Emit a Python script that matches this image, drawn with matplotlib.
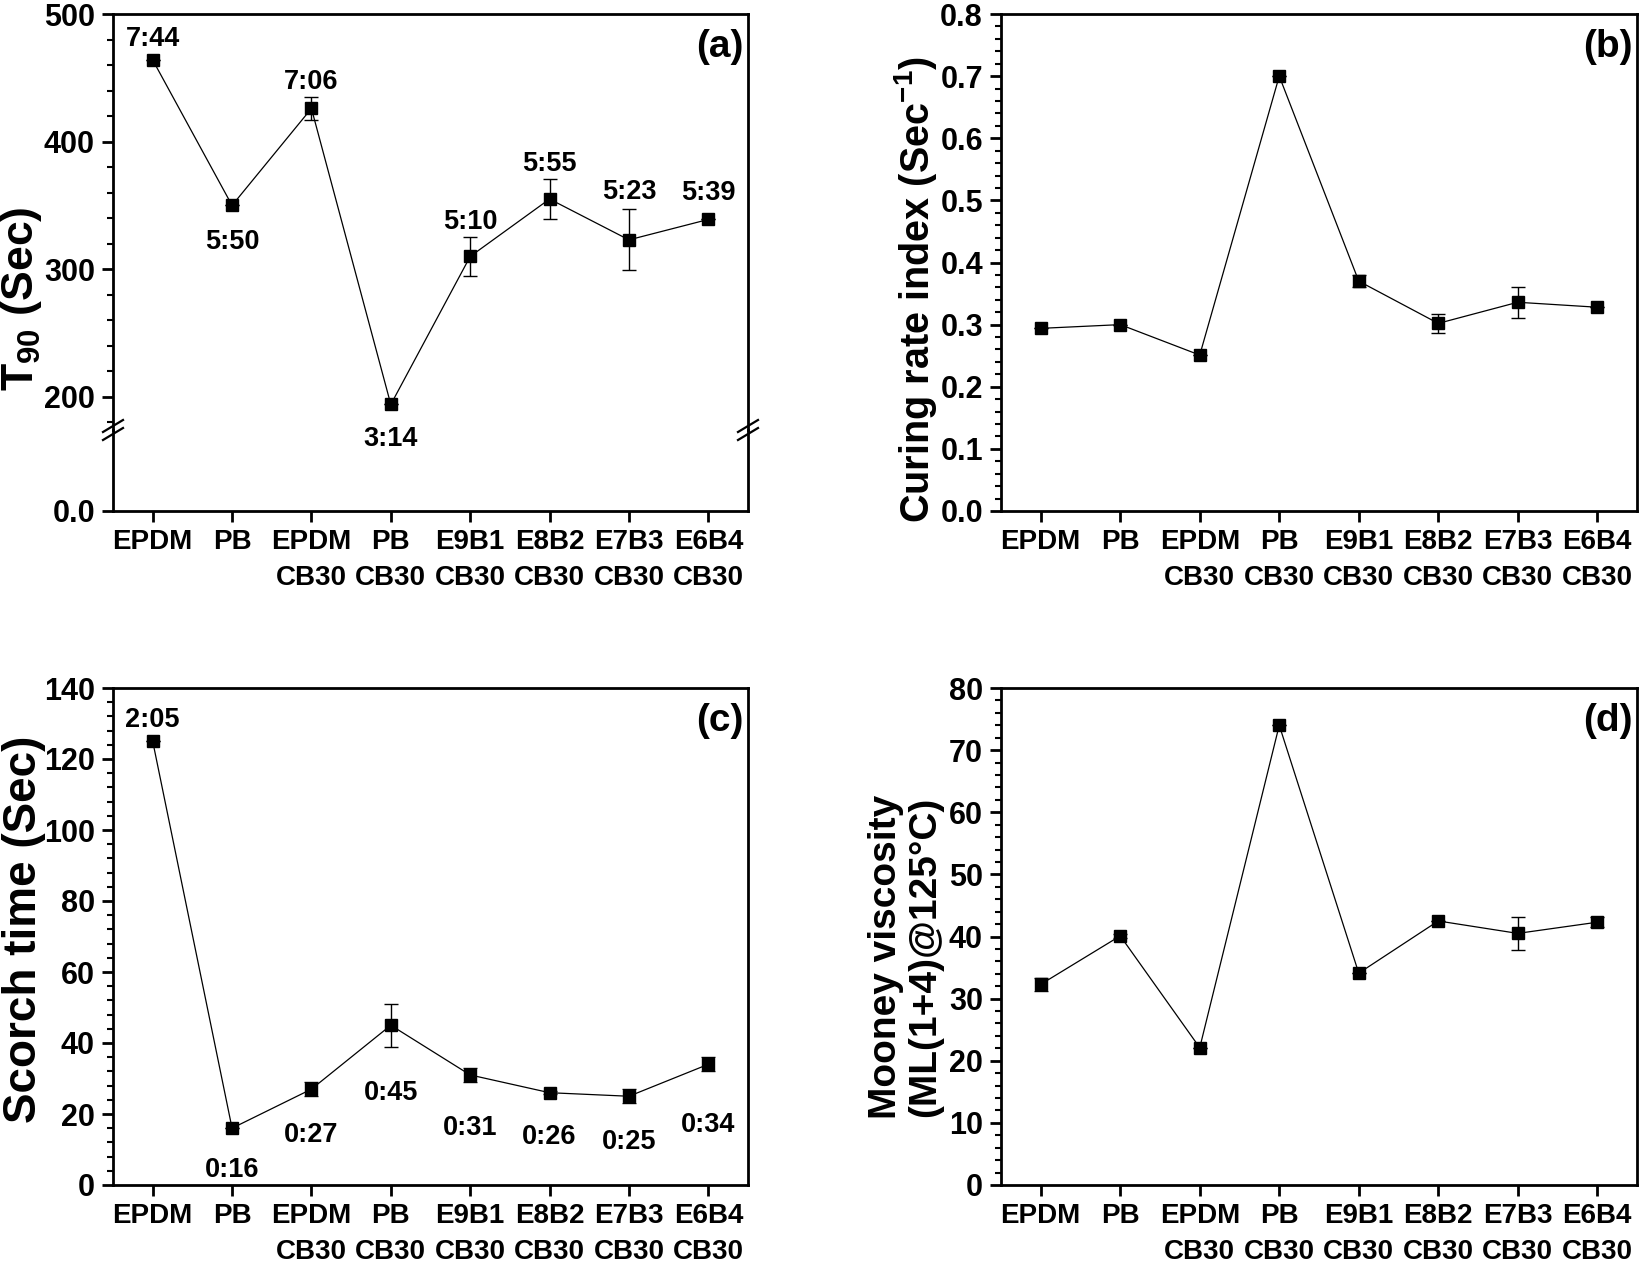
import numpy as np
import matplotlib
matplotlib.use("Agg")
import matplotlib.pyplot as plt
from matplotlib.lines import Line2D
from matplotlib.ticker import MultipleLocator, NullLocator, FormatStrFormatter

plt.rcParams["font.family"] = ["Liberation Sans", "DejaVu Sans"]
plt.rcParams["font.weight"] = "bold"
plt.rcParams["mathtext.default"] = "regular"

W, H = 1639, 1264

samples = ["EPDM", "PB", "EPDM\nCB30", "PB\nCB30", "E9B1\nCB30",
           "E8B2\nCB30", "E7B3\nCB30", "E6B4\nCB30"]

# (a) T90 in seconds (labels are min:sec)
t90 = [464, 350, 426, 194, 310, 355, 323, 339]
t90_err = [0, 0, 9, 0, 15, 16, 24, 0]
t90_text = ["7:44", "5:50", "7:06", "3:14", "5:10", "5:55", "5:23", "5:39"]

# (b) curing rate index
cri = [0.294, 0.300, 0.251, 0.700, 0.370, 0.302, 0.336, 0.328]
cri_err = [0, 0, 0, 0, 0.01, 0.015, 0.025, 0]

# (c) scorch time
scorch = [125, 16, 27, 45, 31, 26, 25, 34]
scorch_err = [0, 0, 2, 6, 2, 0.5, 2, 2]
scorch_text = ["2:05", "0:16", "0:27", "0:45", "0:31", "0:26", "0:25", "0:34"]

# (d) Mooney viscosity
mooney = [32.3, 40.1, 22.1, 74.0, 34.1, 42.5, 40.5, 42.3]
mooney_err = [1.0, 0.3, 0, 0, 0, 0, 2.6, 0.8]

# label shifts in pixels (+ up, - down)
t90_shift = [21, -37, 26, -35, 34, 35, 48, 26]
scorch_shift = [21, -42, -46, -68, -53, -44, -46, -61]

pos = np.arange(1, len(samples) + 1)

fig = plt.figure(figsize=(W / 100, H / 100), dpi=100)


def add_box(left, right, top, bottom):
    return fig.add_axes([left / W, 1 - bottom / H, (right - left) / W, (bottom - top) / H])


def style_axes(ax, major=None, minor=None):
    for spine in ax.spines.values():
        spine.set_linewidth(2)
    ax.tick_params(which="major", direction="out", length=8, width=2, labelsize=22, pad=5)
    ax.tick_params(which="minor", direction="out", length=4, width=1.5)
    ax.tick_params(which="both", top=False, right=False)
    if major is not None:
        ax.yaxis.set_major_locator(MultipleLocator(major))
        ax.yaxis.set_minor_locator(MultipleLocator(minor))
    ax.xaxis.set_minor_locator(NullLocator())
    ax.set_xlim(0.5, 8.5)
    ax.set_xticks(pos, samples)
    for lab in ax.get_xticklabels():
        lab.set_fontsize(20)
        lab.set_linespacing(1.5)


def draw(ax, values, errors):
    ax.errorbar(pos, values, yerr=errors, color="black", linewidth=0.9,
                marker="s", markersize=8.5, ecolor="black", elinewidth=1.0,
                capsize=5, capthick=1.0, zorder=3)


def label_points(ax, values, texts, shifts):
    for xi, yi, txt, dy in zip(pos, values, texts, shifts):
        ax.annotate(txt, (xi, yi), xytext=(0, dy), textcoords="offset pixels",
                    ha="center", va="center", fontsize=19.5, fontweight="bold")


def panel_letter(ax, letter, height_px):
    ax.text(0.993, 1 - 33 / height_px, letter, transform=ax.transAxes,
            ha="right", va="center", fontsize=28, fontweight="bold")


# ---- (a) with broken y axis
ax_a = add_box(113, 748, 14, 430)
ax_a0 = add_box(113, 748, 430, 511)
style_axes(ax_a, 100, 20)
style_axes(ax_a0)
ax_a.set_ylim(174, 500)
ax_a.spines["bottom"].set_visible(False)
ax_a.tick_params(which="both", bottom=False, labelbottom=False)
ax_a0.set_ylim(0, 1)
ax_a0.set_yticks([0], ["0.0"])
ax_a0.yaxis.set_minor_locator(NullLocator())
ax_a0.spines["top"].set_visible(False)
ax_a0.patch.set_visible(False)
draw(ax_a, t90, t90_err)
label_points(ax_a, t90, t90_text, t90_shift)
ax_a.set_ylabel(r"T$_{90}$ (Sec)", fontsize=32, fontweight="bold")
ax_a.yaxis.set_label_coords(-0.108, 0.315)
panel_letter(ax_a, "(a)", 416)

bb = ax_a0.get_position()
for xb in (bb.x0, bb.x1):
    for off in (-4, 4):
        xs = [xb - 10 / W, xb + 10 / W]
        ys = [bb.y1 + (off - 6) / H, bb.y1 + (off + 6) / H]
        fig.add_artist(Line2D(xs, ys, transform=fig.transFigure, color="black", lw=1.6))

# ---- (b)
ax_b = add_box(1001, 1637, 14, 511)
style_axes(ax_b, 0.1, 0.02)
ax_b.set_ylim(0, 0.8)
ax_b.yaxis.set_major_formatter(FormatStrFormatter("%.1f"))
draw(ax_b, cri, cri_err)
ax_b.set_ylabel(r"Curing rate index (Sec$^{-1}$)", fontsize=28.5, fontweight="bold")
ax_b.yaxis.set_label_coords(-0.097, 0.445)
panel_letter(ax_b, "(b)", 497)

# ---- (c)
ax_c = add_box(113, 748, 688, 1185)
style_axes(ax_c, 20, 4)
ax_c.set_ylim(0, 140)
draw(ax_c, scorch, scorch_err)
label_points(ax_c, scorch, scorch_text, scorch_shift)
ax_c.set_ylabel("Scorch time (Sec)", fontsize=33, fontweight="bold")
ax_c.yaxis.set_label_coords(-0.106, 0.515)
panel_letter(ax_c, "(c)", 497)

# ---- (d)
ax_d = add_box(1001, 1637, 688, 1185)
style_axes(ax_d, 10, 2)
ax_d.set_ylim(0, 80)
draw(ax_d, mooney, mooney_err)
ax_d.set_ylabel("Mooney viscosity\n(ML(1+4)@125°C)", fontsize=28, fontweight="bold",
                linespacing=1.1)
ax_d.yaxis.set_label_coords(-0.091, 0.459)
panel_letter(ax_d, "(d)", 497)

fig.savefig("out.png", dpi=100)
